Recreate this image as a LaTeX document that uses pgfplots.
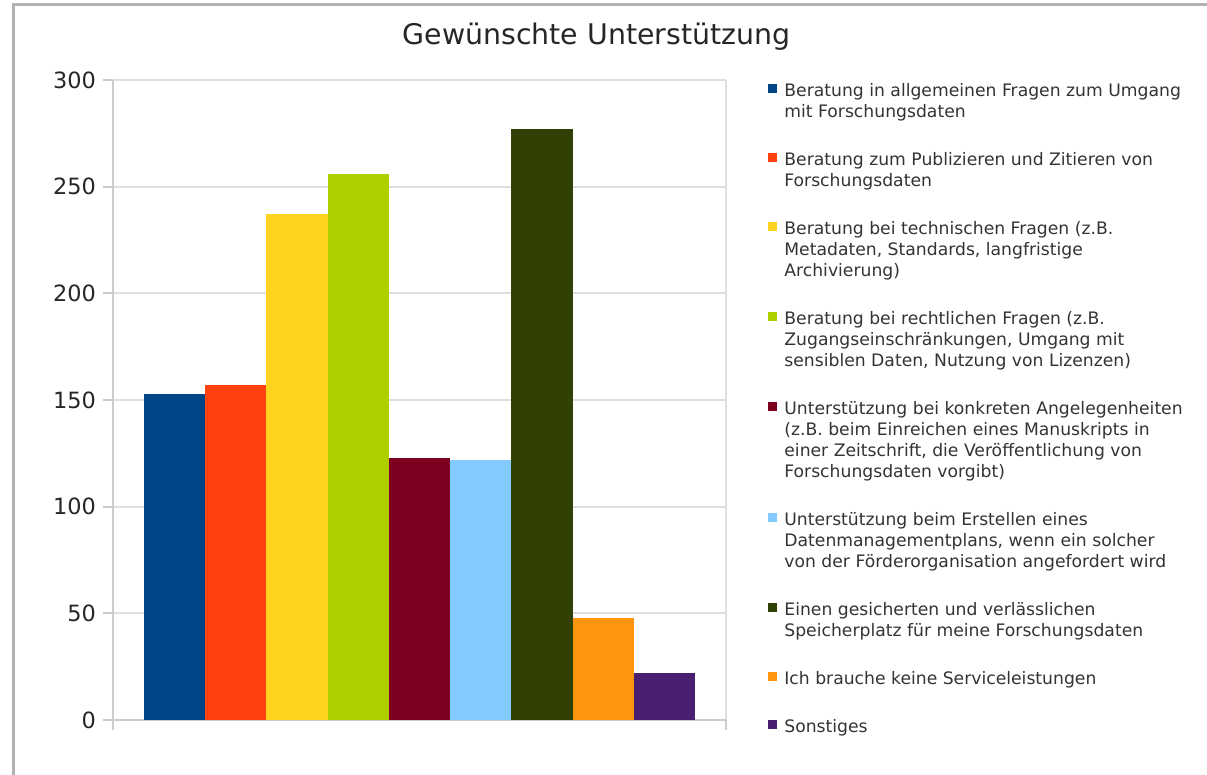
\documentclass[border=0pt]{standalone}
\usepackage{fontspec}
\setmainfont{DejaVu Sans}
\usepackage{pgfplots}
\pgfplotsset{compat=1.18}
\definecolor{c1}{HTML}{004586}
\definecolor{c2}{HTML}{FF420E}
\definecolor{c3}{HTML}{FFD320}
\definecolor{c4}{HTML}{AECF00}
\definecolor{c5}{HTML}{7E0021}
\definecolor{c6}{HTML}{83CAFF}
\definecolor{c7}{HTML}{314004}
\definecolor{c8}{HTML}{FF950E}
\definecolor{c9}{HTML}{4B1F6F}
\pgfplotsset{
  mybar/.style={ybar, bar width=1, bar shift=0pt, draw=none, fill=#1,
    legend image code/.code={\fill[#1] (0pt,1.5pt) rectangle (4.5pt,6pt);}},
}
\newcommand\ent[1]{\parbox[t]{250pt}{\raggedright\strut #1\strut}}
\begin{document}
\begin{tikzpicture}
\useasboundingbox (-56.5pt,-27.5pt) rectangle (547pt,360pt);
\draw[line width=1.5pt, color=gray!60] (-49.5pt,-30pt) -- (-49.5pt,357.5pt) -- (550pt,357.5pt);
\begin{axis}[
  scale only axis, width=306.5pt, height=320pt,
  xmin=-1, xmax=9, ymin=0, ymax=300,
  axis x line*=bottom, axis y line*=left,
  axis line style={-, draw=gray!40, line width=1pt},
  xtick={-1,9}, xticklabels={},
  ytick={0,50,...,300},
  xmajorgrids, ymajorgrids,
  grid style={draw=gray!25, line width=1pt},
  tick align=outside, major tick length=5pt,
  tick style={draw=gray!40, line width=1pt},
  yticklabel style={font=\fontsize{11.2}{13}\selectfont, text=black!85},
  /pgf/number format/assume math mode=true,
  legend style={at={(1.0685,0.998)}, anchor=north west, draw=none, fill=none,
    inner sep=0pt, row sep=13.5pt, column sep=3.5pt,
    cells={anchor=base west},
    nodes={inner sep=0pt, text depth=, font=\fontsize{8.6}{10.5}\selectfont, text=black!80}},
]
\addplot[mybar=c1] coordinates {(0,153)};
\addlegendentry{\ent{Beratung in allgemeinen Fragen zum Umgang\\mit Forschungsdaten}}
\addplot[mybar=c2] coordinates {(1,157)};
\addlegendentry{\ent{Beratung zum Publizieren und Zitieren von\\Forschungsdaten}}
\addplot[mybar=c3] coordinates {(2,237)};
\addlegendentry{\ent{Beratung bei technischen Fragen (z.B.\\Metadaten, Standards, langfristige\\Archivierung)}}
\addplot[mybar=c4] coordinates {(3,256)};
\addlegendentry{\ent{Beratung bei rechtlichen Fragen (z.B.\\Zugangseinschränkungen, Umgang mit\\sensiblen Daten, Nutzung von Lizenzen)}}
\addplot[mybar=c5] coordinates {(4,123)};
\addlegendentry{\ent{Unterstützung bei konkreten Angelegenheiten\\(z.B. beim Einreichen eines Manuskripts in\\einer Zeitschrift, die Veröffentlichung von\\Forschungsdaten vorgibt)}}
\addplot[mybar=c6] coordinates {(5,122)};
\addlegendentry{\ent{Unterstützung beim Erstellen eines\\Datenmanagementplans, wenn ein solcher\\von der Förderorganisation angefordert wird}}
\addplot[mybar=c7] coordinates {(6,277)};
\addlegendentry{\ent{Einen gesicherten und verlässlichen\\Speicherplatz für meine Forschungsdaten}}
\addplot[mybar=c8] coordinates {(7,48)};
\addlegendentry{\ent{Ich brauche keine Serviceleistungen}}
\addplot[mybar=c9] coordinates {(8,22)};
\addlegendentry{\ent{Sonstiges}}
\end{axis}
\node[anchor=base, font=\fontsize{14.2}{16}\selectfont, text=black!85] at (241.75pt,337.5pt) {Gewünschte Unterstützung};
\end{tikzpicture}
\end{document}
